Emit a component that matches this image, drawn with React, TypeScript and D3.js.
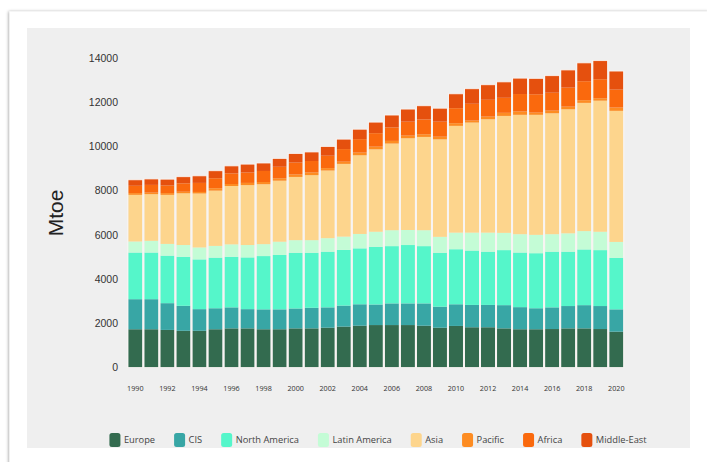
import React, { useEffect, useRef } from "react";
import * as d3 from "d3";

const years = [1990,1991,1992,1993,1994,1995,1996,1997,1998,1999,2000,2001,2002,2003,2004,2005,2006,2007,2008,2009,2010,2011,2012,2013,2014,2015,2016,2017,2018,2019,2020];
const europe = [1730,1730,1700,1660,1660,1730,1770,1770,1730,1730,1770,1770,1800,1850,1890,1920,1920,1920,1890,1800,1880,1820,1820,1770,1730,1730,1740,1770,1770,1740,1620];
const cis = [1360,1360,1210,1130,980,950,950,870,900,900,900,930,920,950,970,930,980,980,1010,950,980,1010,1010,1050,1000,950,980,1010,1050,1040,1010];
const northAmerica = [2110,2110,2150,2220,2250,2290,2290,2340,2410,2460,2520,2490,2520,2520,2530,2610,2590,2640,2590,2440,2490,2460,2410,2490,2470,2490,2520,2460,2520,2530,2330];
const latinAmerica = [500,530,530,530,540,530,560,560,540,600,570,570,610,600,650,680,720,680,720,720,750,810,860,780,830,830,790,830,830,830,720];
const asia = [2110,2110,2220,2340,2440,2500,2640,2710,2710,2760,2860,2940,3060,3290,3560,3730,3920,4150,4220,4410,4830,4980,5130,5290,5400,5430,5470,5610,5800,5930,5930];
const pacific = [80,70,80,70,70,110,90,100,100,110,110,120,110,100,120,120,120,120,120,120,120,90,120,140,150,100,120,120,120,110,150];
const africa = [330,350,340,380,410,450,480,470,500,520,540,520,560,570,610,610,610,630,670,680,680,760,760,680,790,830,810,860,860,860,810];
const middleEast = [270,270,290,300,320,340,340,380,360,380,410,410,420,450,450,500,560,570,620,610,650,680,680,720,720,720,770,800,830,840,840];

const seriesNames = ["Europe","CIS","North America","Latin America","Asia","Pacific","Africa","Middle-East"];
const seriesColors = ["#336b4f","#38a6a5","#55f6ca","#c4fcd6","#fdd58d","#fd8c22","#fa690d","#e5500e"];
const yTicks = [0,2000,4000,6000,8000,10000,12000,14000];
const xTickYears = [1990,1992,1994,1996,1998,2000,2002,2004,2006,2008,2010,2012,2014,2016,2018,2020];

export default function App() {
  const ref = useRef<SVGSVGElement>(null);

  useEffect(() => {
    const svg = d3.select(ref.current);
    svg.selectAll("*").remove();

    const defs = svg.append("defs");
    const f = defs.append("filter").attr("id", "sh").attr("x", "-5%").attr("y", "-5%").attr("width", "110%").attr("height", "110%");
    f.append("feDropShadow").attr("dx", -1).attr("dy", 0).attr("stdDeviation", 1.6).attr("flood-color", "#000").attr("flood-opacity", 0.35);

    svg.append("rect").attr("x", 0).attr("y", 0).attr("width", 707).attr("height", 462).attr("fill", "#fff");
    svg.append("rect").attr("x", 9.5).attr("y", 11.5).attr("width", 700).attr("height", 480).attr("fill", "#fff").attr("filter", "url(#sh)");
    svg.append("rect").attr("x", 27).attr("y", 28).attr("width", 663).attr("height", 420).attr("fill", "#efefef");

    const rows = years.map((yr, i) => ({
      year: yr,
      "Europe": europe[i],
      "CIS": cis[i],
      "North America": northAmerica[i],
      "Latin America": latinAmerica[i],
      "Asia": asia[i],
      "Pacific": pacific[i],
      "Africa": africa[i],
      "Middle-East": middleEast[i],
    }));

    const x = d3.scaleBand<number>().domain(years).range([127.3, 624.3]).paddingInner(0.125).paddingOuter(0.0625);
    const y = d3.scaleLinear().domain([0, 14000]).range([367.5, 58]);
    const color = d3.scaleOrdinal<string, string>().domain(seriesNames).range(seriesColors);

    const stack = d3.stack<any>().keys(seriesNames)(rows);

    const g = svg.append("g");
    g.selectAll("g.s").data(stack).join("g").attr("fill", (d) => color(d.key))
      .selectAll("rect").data((d) => d).join("rect")
      .attr("x", (d) => x(d.data.year)!)
      .attr("width", x.bandwidth())
      .attr("y", (d) => y(d[1]))
      .attr("height", (d) => y(d[0]) - y(d[1]));

    // subtle white bar outlines
    g.selectAll("rect.o").data(rows).join("rect").attr("class", "o")
      .attr("x", (d) => x(d.year)! - 0.5)
      .attr("width", x.bandwidth() + 1)
      .attr("y", (d) => y(d3.sum(seriesNames, (k) => (d as any)[k])))
      .attr("height", (d) => y(0) - y(d3.sum(seriesNames, (k) => (d as any)[k])))
      .attr("fill", "none").attr("stroke", "#fbf6f4").attr("stroke-width", 0.8);

    // y ticks
    svg.append("g").selectAll("text").data(yTicks).join("text")
      .attr("x", 118).attr("y", (d) => y(d)).attr("dy", "0.35em")
      .attr("text-anchor", "end").attr("font-family", "'Liberation Sans', Arial, sans-serif")
      .attr("font-size", 10.5).attr("fill", "#333").text((d) => String(d));

    // x ticks
    svg.append("g").selectAll("text").data(xTickYears).join("text")
      .attr("x", (d) => x(d)! + x.bandwidth() / 2).attr("y", 388).attr("dy", "0.35em")
      .attr("text-anchor", "middle").attr("font-family", "'Open Sans', sans-serif")
      .attr("font-size", 7.2).attr("fill", "#333").text((d) => String(d));

    // y title
    svg.append("text").attr("transform", "translate(63,213) rotate(-90)")
      .attr("text-anchor", "middle").attr("font-family", "'Liberation Sans', Arial, sans-serif")
      .attr("font-size", 21).attr("fill", "#222").text("Mtoe");

    // legend
    const lg = svg.append("g");
    const items = lg.selectAll("g").data(seriesNames).join("g");
    items.append("rect").attr("width", 11).attr("height", 14).attr("rx", 2.5).attr("y", 433).attr("fill", (d) => color(d));
    const texts = items.append("text").attr("x", 14.5).attr("y", 440).attr("dy", "0.35em")
      .attr("font-family", "'Open Sans', sans-serif").attr("font-size", 9.3).attr("fill", "#444").text((d) => d);
    const widths: number[] = [];
    texts.each(function () { widths.push((this as SVGTextElement).getComputedTextLength()); });
    const gap = 19;
    const itemW = widths.map((w) => 14.5 + w);
    const total = d3.sum(itemW) + gap * (itemW.length - 1);
    let cx = 378 - total / 2;
    items.each(function (_d, i) {
      d3.select(this).attr("transform", `translate(${cx},0)`);
      cx += itemW[i] + gap;
    });
  }, []);

  return (
    <svg ref={ref} width={707} height={462} style={{ position: "absolute", left: 0, top: 0, display: "block" }} />
  );
}
